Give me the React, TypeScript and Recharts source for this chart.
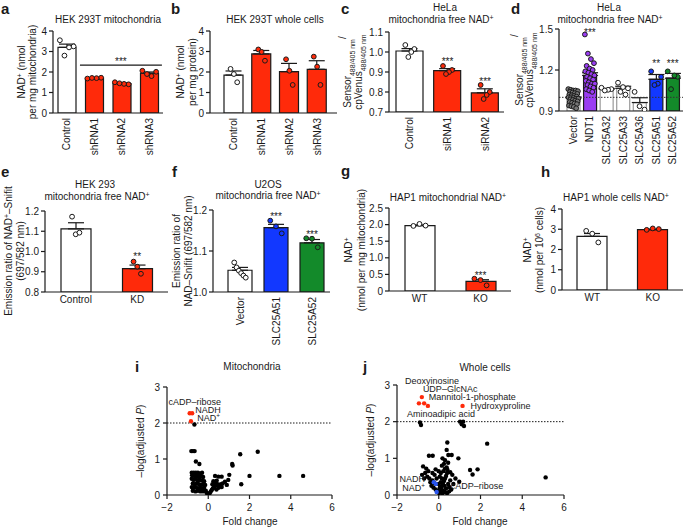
import React from 'react';
import {
  ComposedChart,
  ScatterChart,
  Bar,
  ErrorBar,
  Cell,
  Scatter,
  XAxis,
  YAxis,
  ReferenceLine,
  ReferenceDot,
} from 'recharts';

const INK = '#1a1a1a';
const RED = '#ff2a0a';
const BLUE = '#1238ff';
const GREEN = '#138a2a';
const PURPLE = '#9a3df2';
const WHITE = '#ffffff';
const GREY = '#9a9a9a';
const VBLUE = '#2a55ee';
const FONT = '"Liberation Sans", Arial, Helvetica, sans-serif';

// a – HEK 293T mitochondria
const aCats = ['Control', 'shRNA1', 'shRNA2', 'shRNA3'];
const aMeans = [3.2, 1.7, 1.44, 1.94];
const aErr = [0.16, 0.02, 0.03, 0.06];
const aPts = [[3.55, 3.25, 3.2, 2.8], [1.68, 1.72, 1.7, 1.71], [1.5, 1.4, 1.42, 1.45], [2.06, 2.01, 1.8, 1.9]];
const aSig = { from: 0.48, to: 3.46, y: 2.34, starY: 2.6, starX: 1.97 };

// b – HEK 293T whole cells
const bCats = ['Control', 'shRNA1', 'shRNA2', 'shRNA3'];
const bMeans = [1.85, 2.88, 2.02, 2.13];
const bErr = [0.2, 0.17, 0.4, 0.42];
const bPts = [[2.15, 1.9, 1.5], [3.1, 2.98, 2.55], [2.62, 2.06, 1.37], [2.75, 2.26, 1.37]];

// c – HeLa mito free NAD+
const cCats = ['Control', 'siRNA1', 'siRNA2'];
const cMeans = [1.005, 0.907, 0.796];
const cErr = [0.012, 0.01, 0.02];
const cPts = [[1.035, 1.015, 1.0, 0.975], [0.93, 0.91, 0.9, 0.89], [0.835, 0.8, 0.785, 0.765]];
const cStars = [{ i: 1, y: 0.965, t: '***' }, { i: 2, y: 0.865, t: '***' }];

// d – HeLa mito free NAD+
const dCats = ['Vector', 'NDT1', 'SLC25A32', 'SLC25A33', 'SLC25A36', 'SLC25A51', 'SLC25A52'];
const dMeans = [0.995, 1.16, 1.06, 1.066, 0.962, 1.132, 1.14];
const dErr = [0.008, 0.02, 0.005, 0.015, 0.035, 0.035, 0.035];
const dPts = [
  [1.06, 1.055, 1.05, 1.05, 1.045, 1.04, 1.035, 1.03, 1.025, 1.02, 1.015, 1.01, 1.005, 1.0, 1.0,
    0.995, 0.99, 0.99, 0.985, 0.98, 0.975, 0.97, 0.965, 0.96, 0.955, 0.95, 0.94, 0.935, 0.93, 0.92],
  [1.46, 1.32, 1.28, 1.25, 1.23, 1.21, 1.2, 1.19, 1.18, 1.17, 1.16, 1.15, 1.14, 1.13, 1.12, 1.11,
    1.1, 1.1, 1.09, 1.08, 1.07, 1.06, 1.05, 1.04],
  [1.07, 1.06, 1.055, 1.05],
  [1.107, 1.075, 1.066, 1.04, 1.02],
  [1.04, 0.935, 0.91],
  [1.19, 1.15, 1.1, 1.09],
  [1.19, 1.15, 1.16, 1.06],
];
const dStars = [{ i: 1, y: 1.49, t: '***' }, { i: 5, y: 1.265, t: '**' }, { i: 6, y: 1.265, t: '***' }];

// e – HEK 293 mito free NAD+
const eCats = ['Control', 'KD'];
const eMeans = [1.112, 0.915];
const eErr = [0.03, 0.018];
const ePts = [[1.172, 1.085, 1.093], [0.95, 0.925, 0.89]];
const eStars = [{ i: 1, y: 0.985, t: '**' }];

// f – U2OS mito free NAD+
const fCats = ['Vector', 'SLC25A51', 'SLC25A52'];
const fMeans = [1.053, 1.157, 1.12];
const fErr = [0.007, 0.008, 0.008];
const fPts = [[1.072, 1.06, 1.052, 1.046, 1.04, 1.035], [1.174, 1.16, 1.143], [1.131, 1.13, 1.109]];
const fStars = [{ i: 1, y: 1.188, t: '***' }, { i: 2, y: 1.146, t: '***' }];

// g – HAP1 mitochondrial NAD+
const gCats = ['WT', 'KO'];
const gMeans = [1.97, 0.29];
const gErr = [0.02, 0.05];
const gPts = [[1.96, 2.02, 1.97], [0.37, 0.33, 0.17]];
const gStars = [{ i: 1, y: 0.53, t: '***' }];

// h – HAP1 whole cells NAD+
const hCats = ['WT', 'KO'];
const hMeans = [2.65, 2.98];
const hErr = [0.14, 0.03];
const hPts = [[2.92, 2.78, 2.35], [2.97, 3.04, 3.01]];

// i – volcano, mitochondria  [fold change, -log adj P]
const iRed = [[-0.9, 2.27], [-0.78, 2.27], [-0.84, 2.05]];
const iBlack = [
  [-0.67, 1.96], [-0.82, 1.22], [-0.74, 1.22], [-0.66, 1.22], [-0.6, 0.93], [-0.43, 0.86],
  [1.55, 1.13], [2.4, 1.2], [1.16, 0.86], [1.18, 0.82], [1.6, 0.3], [2.0, 0.53], [3.45, 0.53], [4.6, 0.53],
  [0.33, 0.53], [0.49, 0.51], [0.65, 0.51], [0.41, 0.4], [0.81, 0.37], [0.97, 0.42], [1.02, 0.56],
  [0.9, 0.28], [0.33, 0.25],
  [-0.8, 0.62], [-0.7, 0.62], [-0.6, 0.62], [-0.5, 0.62], [-0.4, 0.6], [-0.3, 0.62],
  [-0.78, 0.55], [-0.65, 0.52], [-0.55, 0.55], [-0.45, 0.5], [-0.35, 0.52], [-0.25, 0.5],
  [-0.8, 0.45], [-0.7, 0.42], [-0.6, 0.45], [-0.5, 0.4], [-0.4, 0.42], [-0.3, 0.4], [-0.2, 0.38],
  [-0.75, 0.32], [-0.65, 0.3], [-0.55, 0.33], [-0.45, 0.3], [-0.35, 0.28], [-0.25, 0.3], [-0.15, 0.28],
  [-0.8, 0.22], [-0.7, 0.2], [-0.6, 0.22], [-0.5, 0.18], [-0.4, 0.2], [-0.3, 0.18], [-0.2, 0.2],
  [-0.75, 0.12], [-0.62, 0.1], [-0.5, 0.12], [-0.38, 0.1], [-0.25, 0.1], [-0.12, 0.12],
  [-0.08, 0.06], [-0.03, 0.03], [0.0, 0.01], [0.04, 0.03], [0.08, 0.06], [0.12, 0.1], [0.17, 0.14],
  [0.22, 0.18], [0.27, 0.2], [0.3, 0.3], [0.36, 0.36], [0.45, 0.3], [0.55, 0.28], [0.62, 0.3],
  [0.7, 0.32], [0.5, 0.2], [0.65, 0.22], [0.4, 0.15], [0.2, 0.3], [0.25, 0.38],
];
const iLabels = [
  { x: -1.93, y: 2.58, t: 'cADP–ribose', end: false },
  { x: -0.63, y: 2.36, t: 'NADH', end: false },
  { x: -0.53, y: 2.14, t: 'NAD^+', end: false },
];

// j – volcano, whole cells
const jRed = [[-0.81, 2.67], [-0.95, 2.5], [-0.7, 2.5], [-0.52, 2.43], [1.14, 2.43]];
const jBlue = [[-0.24, 0.35], [-0.14, 0.3], [-0.1, 0.08]];
const jBlack = [
  [-0.9, 1.98], [-0.85, 1.91], [1.02, 2.0], [1.17, 2.0], [1.1, 1.93], [1.21, 1.88],
  [0.41, 1.43], [2.32, 1.4], [-0.47, 1.07], [-0.29, 1.07], [0.46, 1.09], [0.62, 1.09], [0.38, 1.23],
  [0.94, 1.0], [1.5, 0.68], [1.86, 0.7], [1.62, 0.56], [5.12, 0.48], [0.98, 0.36],
  [-0.75, 0.78], [-0.6, 0.72], [-0.5, 0.65], [-0.65, 0.6], [-0.8, 0.55], [-0.55, 0.5], [-0.45, 0.45],
  [-0.7, 0.45], [-0.4, 0.35], [-0.3, 0.4], [-0.35, 0.25], [-0.25, 0.2], [-0.15, 0.15], [-0.05, 0.12],
  [0.02, 0.05], [0.08, 0.1], [0.12, 0.18], [0.15, 0.25], [0.2, 0.3], [0.25, 0.38], [0.3, 0.45],
  [0.35, 0.52], [0.4, 0.6], [0.42, 0.68], [0.38, 0.75], [0.3, 0.72], [0.22, 0.65], [0.1, 0.6],
  [0.05, 0.5], [0.15, 0.45], [0.1, 0.35], [0.28, 0.25], [0.35, 0.18], [0.45, 0.3], [0.55, 0.4],
  [0.5, 0.22], [0.6, 0.15], [0.7, 0.3], [0.8, 0.45], [0.65, 0.55], [0.55, 0.62], [0.25, 0.85],
  [0.15, 0.8], [0.45, 0.88], [0.5, 0.1], [0.3, 0.08], [0.2, 0.12], [-0.2, 0.55], [-0.1, 0.45],
  [-0.2, 0.32], [0.0, 0.3], [0.05, 0.2], [0.18, 0.05], [0.4, 0.05], [-0.3, 0.6], [-0.15, 0.7],
  [0.0, 0.65], [0.3, 0.95], [0.18, 1.0],
];
const jLabels = [
  { x: -1.62, y: 3.1, t: 'Deoxyinosine', end: false },
  { x: -0.76, y: 2.89, t: 'UDP–GlcNAc', end: false },
  { x: -0.48, y: 2.67, t: 'Mannitol-1-phosphate', end: false },
  { x: 1.52, y: 2.43, t: 'Hydroxyproline', end: false },
  { x: -1.52, y: 2.2, t: 'Aminoadipic acid', end: false },
  { x: -0.66, y: 0.44, t: 'NADH', end: true },
  { x: -0.66, y: 0.19, t: 'NAD^+', end: true },
  { x: 0.57, y: 0.25, t: 'cADP–ribose', end: false },
];

const YW = 30;
const MT = 12;
const MR = 6;

function frame(x0: number, x1: number, yTop: number, yBot: number, xh: number) {
  const left = x0 - YW;
  return { left, top: yTop - MT, width: x1 - left + MR, height: yBot - yTop + MT + xh };
}

// text with ^x superscripts
function rich(s: string, size: number) {
  return s.split(/(\^.)/).filter(Boolean).map((p, k) =>
    p.startsWith('^') ? (
      <tspan key={k} baselineShift="super" fontSize={size * 0.7}>{p.slice(1)}</tspan>
    ) : (
      <tspan key={k}>{p}</tspan>
    )
  );
}

function jitter(j: number, k: number, s: number) {
  if (k < 2) return 0;
  const m = k % 7 === 0 ? 5 : 7;
  const r = (j * m) % k;
  return (r / (k - 1) - 0.5) * 2 * s;
}

function RotTick(props: any) {
  const { x, y, payload } = props;
  return (
    <text transform={`translate(${x},${y}) rotate(-90)`} textAnchor="end" dy="0.35em"
      fontSize={10} fill={INK} fontFamily={FONT}>
      {payload.value}
    </text>
  );
}

const RepDot = (p: any) => (
  <circle cx={p.cx} cy={p.cy} r={2.4} fill={p.payload.df} stroke={INK} strokeWidth={1} />
);

const starShape = (t: string) => (p: any) => (
  <text x={p.cx} y={p.cy} dy={5.5} textAnchor="middle" fontSize={10} fill={INK} fontFamily={FONT}>{t}</text>
);

type BarProps = {
  cats: string[]; means: number[]; err: number[]; pts: number[][];
  fills: string[]; strokes: string[]; dotFills: string[];
  domain: [number, number]; ticks: number[]; fmt: (v: number) => string;
  x0: number; x1: number; yTop: number; yBot: number; padL?: number; padR?: number;
  barSize: number; spread: number; rotated?: boolean;
  stars?: { i: number; y: number; t: string }[];
  extras?: React.ReactNode;
};

function BarPanel(p: BarProps) {
  const n = p.cats.length;
  const xh = p.rotated ? 62 : 22;
  const f = frame(p.x0, p.x1, p.yTop, p.yBot, xh);
  const pad = { left: p.padL ?? 0, right: p.padR ?? 0 };
  const data = p.cats.map((c, i) => ({ name: c, mean: p.means[i], err: [0, p.err[i]] }));
  const dots = p.pts.flatMap((vals, i) =>
    vals.map((v, j) => ({ x: i + jitter(j, vals.length, p.spread), y: v, df: p.dotFills[i] }))
  );
  return (
    <div style={{ position: 'absolute', left: f.left, top: f.top }}>
      <ComposedChart width={f.width} height={f.height} data={data}
        margin={{ top: MT, right: MR, bottom: 0, left: 0 }}>
        <XAxis dataKey="name" type="category" height={xh} padding={pad} interval={0}
          axisLine={{ stroke: INK, strokeWidth: 1.2 }} tickLine={false} tickSize={0}
          tickMargin={p.rotated ? 5 : 4}
          tick={p.rotated ? <RotTick /> : { fontSize: 10, fill: INK, fontFamily: FONT }} />
        <XAxis xAxisId="n" type="number" dataKey="x" domain={[-0.5, n - 0.5]} padding={pad}
          allowDataOverflow hide />
        <YAxis width={YW} type="number" domain={p.domain} ticks={p.ticks} tickFormatter={p.fmt}
          allowDataOverflow interval={0} axisLine={{ stroke: INK, strokeWidth: 1.2 }}
          tickLine={{ stroke: INK, strokeWidth: 1.2 }} tickSize={4} tickMargin={2}
          tick={{ fontSize: 10, fill: INK, fontFamily: FONT }} />
        <Bar dataKey="mean" barSize={p.barSize} isAnimationActive={false}>
          {p.cats.map((c, i) => (
            <Cell key={c} fill={p.fills[i]} stroke={p.strokes[i]} strokeWidth={1.2} />
          ))}
          <ErrorBar dataKey="err" direction="y" width={8} stroke={INK} strokeWidth={1.2} />
        </Bar>
        {p.extras}
        <Scatter xAxisId="n" data={dots} dataKey="y" shape={RepDot} isAnimationActive={false} />
        {(p.stars ?? []).map((s, k) => (
          <ReferenceDot key={k} xAxisId="n" x={s.i} y={s.y} r={0} ifOverflow="visible"
            shape={starShape(s.t)} />
        ))}
      </ComposedChart>
    </div>
  );
}

const labelShape = (t: string, end: boolean) => (p: any) => (
  <text x={p.cx} y={p.cy} dy="0.35em" textAnchor={end ? 'end' : 'start'} fontSize={9}
    fill={INK} fontFamily={FONT}>
    {rich(t, 9)}
  </text>
);

const volDot = (color: string) => (p: any) => <circle cx={p.cx} cy={p.cy} r={2.2} fill={color} />;

const toXY = (a: number[][]) => a.map(([x, y]) => ({ x, y }));
const minus = (v: number) => (v < 0 ? `−${Math.abs(v)}` : String(v));

type VolProps = {
  black: number[][]; red: number[][]; blue: number[][];
  labels: { x: number; y: number; t: string; end: boolean }[];
  x0: number; x1: number; yTop: number; yBot: number;
};

function VolcanoPanel(p: VolProps) {
  const xh = 24;
  const f = frame(p.x0, p.x1, p.yTop, p.yBot, xh);
  return (
    <div style={{ position: 'absolute', left: f.left, top: f.top }}>
      <ScatterChart width={f.width} height={f.height} margin={{ top: MT, right: MR, bottom: 0, left: 0 }}>
        <XAxis type="number" dataKey="x" domain={[-2, 6]} ticks={[-2, 0, 2, 4, 6]} tickFormatter={minus}
          allowDataOverflow height={xh} interval={0} axisLine={{ stroke: INK, strokeWidth: 1.2 }}
          tickLine={{ stroke: INK, strokeWidth: 1.2 }} tickSize={4} tickMargin={5}
          tick={{ fontSize: 10, fill: INK, fontFamily: FONT }} />
        <YAxis type="number" dataKey="y" domain={[0, 3]} ticks={[0, 1, 2, 3]} width={YW}
          allowDataOverflow interval={0} axisLine={{ stroke: INK, strokeWidth: 1.2 }}
          tickLine={{ stroke: INK, strokeWidth: 1.2 }} tickSize={4} tickMargin={3}
          tick={{ fontSize: 10, fill: INK, fontFamily: FONT }} />
        <ReferenceLine y={2} stroke={INK} strokeDasharray="1.5 1.5" strokeWidth={1} />
        <Scatter data={toXY(p.black)} shape={volDot('#000')} isAnimationActive={false} />
        <Scatter data={toXY(p.blue)} shape={volDot(VBLUE)} isAnimationActive={false} />
        <Scatter data={toXY(p.red)} shape={volDot(RED)} isAnimationActive={false} />
        {p.labels.map((l, k) => (
          <ReferenceDot key={k} x={l.x} y={l.y} r={0} ifOverflow="visible" shape={labelShape(l.t, l.end)} />
        ))}
      </ScatterChart>
    </div>
  );
}

function VText({ x, y, children }: { x: number; y: number; children: React.ReactNode }) {
  return (
    <text transform={`translate(${x},${y}) rotate(-90)`} textAnchor="middle" dy="0.35em" fontSize={10}>
      {children}
    </text>
  );
}

function HText({ x, y, s, size = 10, bold = false, anchor = 'middle' }: any) {
  return (
    <text x={x} y={y} textAnchor={anchor} fontSize={size} fontWeight={bold ? 'bold' : 'normal'}>
      {rich(s, size)}
    </text>
  );
}

const int = (v: number) => String(v);
const one = (v: number) => v.toFixed(1);
const gFmt = (v: number) => (v === 0 ? '0' : v.toFixed(1));

export default function App() {
  const letters: [string, number, number][] = [
    ['a', 1, 14], ['b', 171, 14], ['c', 341, 14], ['d', 511, 14], ['e', 1, 177], ['f', 172, 177],
    ['g', 341, 176], ['h', 541, 177], ['i', 135, 372], ['j', 363, 372],
  ];
  const sub = (s: string) => <tspan baselineShift="sub" fontSize={7}>{s}</tspan>;
  return (
    <div style={{ position: 'absolute', left: 0, top: 0, width: 685, height: 529, background: '#fff', overflow: 'hidden' }}>
      <BarPanel cats={aCats} means={aMeans} err={aErr} pts={aPts}
        fills={[WHITE, RED, RED, RED]} strokes={[INK, INK, INK, INK]} dotFills={[WHITE, RED, RED, RED]}
        domain={[0, 4]} ticks={[0, 1, 2, 3, 4]} fmt={int} x0={53} x1={163} yTop={31} yBot={113}
        barSize={18} spread={0.25} rotated
        extras={[
          <ReferenceLine key="sig" xAxisId="n" ifOverflow="visible" stroke={INK} strokeWidth={1.2}
            segment={[{ x: aSig.from, y: aSig.y }, { x: aSig.to, y: aSig.y }]} />,
          <ReferenceDot key="st" xAxisId="n" x={aSig.starX} y={aSig.starY} r={0} ifOverflow="visible"
            shape={starShape('***')} />,
        ]} />
      <BarPanel cats={bCats} means={bMeans} err={bErr} pts={bPts}
        fills={[WHITE, RED, RED, RED]} strokes={[INK, INK, INK, INK]} dotFills={[WHITE, RED, RED, RED]}
        domain={[0, 4]} ticks={[0, 1, 2, 3, 4]} fmt={int} x0={210} x1={337} yTop={31} yBot={113}
        padL={10} padR={6} barSize={19} spread={0.12} rotated />
      <BarPanel cats={cCats} means={cMeans} err={cErr} pts={cPts}
        fills={[WHITE, RED, RED]} strokes={[INK, INK, INK]} dotFills={[WHITE, RED, RED]}
        domain={[0.7, 1.1]} ticks={[0.7, 0.8, 0.9, 1.0, 1.1]} fmt={one} x0={389} x1={504} yTop={32} yBot={112}
        padL={2} barSize={27} spread={0.12} rotated stars={cStars} />
      <BarPanel cats={dCats} means={dMeans} err={dErr} pts={dPts}
        fills={[WHITE, PURPLE, WHITE, WHITE, WHITE, BLUE, GREEN]}
        strokes={[GREY, INK, GREY, GREY, GREY, INK, INK]}
        dotFills={['#777', PURPLE, WHITE, WHITE, WHITE, BLUE, GREEN]}
        domain={[0.9, 1.5]} ticks={[0.9, 1.2, 1.5]} fmt={one} x0={559} x1={683} yTop={29} yBot={111}
        padL={6} padR={2} barSize={13} spread={0.3} rotated stars={dStars}
        extras={<ReferenceLine y={1} stroke="#333" strokeDasharray="1.5 1.5" strokeWidth={1} />} />
      <BarPanel cats={eCats} means={eMeans} err={eErr} pts={ePts}
        fills={[WHITE, RED]} strokes={[INK, INK]} dotFills={[WHITE, RED]}
        domain={[0.8, 1.2]} ticks={[0.8, 0.9, 1.0, 1.1, 1.2]} fmt={one} x0={45} x1={168} yTop={211} yBot={292}
        barSize={30} spread={0.06} stars={eStars} />
      <BarPanel cats={fCats} means={fMeans} err={fErr} pts={fPts}
        fills={[WHITE, BLUE, GREEN]} strokes={[INK, INK, INK]} dotFills={[WHITE, BLUE, GREEN]}
        domain={[1.0, 1.2]} ticks={[1.0, 1.1, 1.2]} fmt={one} x0={213} x1={330} yTop={210} yBot={292}
        padL={9} padR={0} barSize={24} spread={0.16} rotated stars={fStars} />
      <BarPanel cats={gCats} means={gMeans} err={gErr} pts={gPts}
        fills={[WHITE, RED]} strokes={[INK, INK]} dotFills={[WHITE, RED]}
        domain={[0, 2.5]} ticks={[0, 0.5, 1.0, 1.5, 2.0, 2.5]} fmt={gFmt} x0={389} x1={511} yTop={208} yBot={291}
        barSize={30} spread={0.1} stars={gStars} />
      <BarPanel cats={hCats} means={hMeans} err={hErr} pts={hPts}
        fills={[WHITE, RED]} strokes={[INK, INK]} dotFills={[WHITE, RED]}
        domain={[0, 4]} ticks={[0, 1, 2, 3, 4]} fmt={int} x0={562} x1={683} yTop={209} yBot={290}
        barSize={30} spread={0.1} />
      <VolcanoPanel black={iBlack} red={iRed} blue={[]} labels={iLabels} x0={167} x1={332} yTop={387} yBot={495} />
      <VolcanoPanel black={jBlack} red={jRed} blue={jBlue} labels={jLabels} x0={397} x1={564} yTop={385} yBot={495} />

      <svg width={685} height={529} style={{ position: 'absolute', left: 0, top: 0, pointerEvents: 'none' }}
        fontFamily={FONT} fill={INK}>
        {letters.map(([l, x, y]) => (
          <text key={l} x={x} y={y} fontSize={15} fontWeight="bold">{l}</text>
        ))}
        <HText x={108} y={23} s="HEK 293T mitochondria" />
        <HText x={275} y={23} s="HEK 293T whole cells" />
        <HText x={445} y={11} s="HeLa" />
        <HText x={441} y={23} s="mitochondria free NAD^+" />
        <HText x={609} y={11} s="HeLa" />
        <HText x={610} y={23} s="mitochondria free NAD^+" />
        <HText x={95} y={188} s="HEK 293" />
        <HText x={97} y={200} s="mitochondria free NAD^+" />
        <HText x={268} y={188} s="U2OS" />
        <HText x={268} y={199} s="mitochondria free NAD^+" />
        <HText x={448} y={201} s="HAP1 mitochondrial NAD^+" />
        <HText x={616} y={201} s="HAP1 whole cells NAD^+" />
        <HText x={252} y={370} s="Mitochondria" />
        <HText x={485} y={371} s="Whole cells" />
        <HText x={250} y={525} s="Fold change" />
        <HText x={480} y={525} s="Fold change" />

        <VText x={21} y={72}>{rich('NAD^+ (nmol', 10)}</VText>
        <VText x={32} y={72}>per mg mitochondria)</VText>
        <VText x={180} y={72}>{rich('NAD^+ (nmol', 10)}</VText>
        <VText x={192} y={72}>per mg protein)</VText>
        <VText x={347} y={72}>Sensor{sub('488/405 nm')}<tspan baselineShift="super">/</tspan></VText>
        <VText x={358} y={72}>cpVenus{sub('488/405 nm')}</VText>
        <VText x={519} y={70}>Sensor{sub('488/405 nm')}<tspan baselineShift="super">/</tspan></VText>
        <VText x={529} y={70}>cpVenus{sub('488/405 nm')}</VText>
        <VText x={8} y={251}>{rich('Emission ratio of NAD^+–Snifit', 10)}</VText>
        <VText x={20} y={251}>(697/582 nm)</VText>
        <VText x={176} y={251}>Emission ratio of</VText>
        <VText x={188} y={251}>NAD–Snifit (697/582 nm)</VText>
        <VText x={348} y={250}>{rich('NAD^+', 10)}</VText>
        <VText x={361} y={250}>(nmol per mg mitochondria)</VText>
        <VText x={527} y={250}>{rich('NAD^+', 10)}</VText>
        <VText x={539} y={250}>{rich('(nmol per 10^6 cells)', 10)}</VText>
        <VText x={140} y={441}>–log(adjusted <tspan fontStyle="italic">P</tspan>)</VText>
        <VText x={370} y={440}>–log(adjusted <tspan fontStyle="italic">P</tspan>)</VText>
      </svg>
    </div>
  );
}
